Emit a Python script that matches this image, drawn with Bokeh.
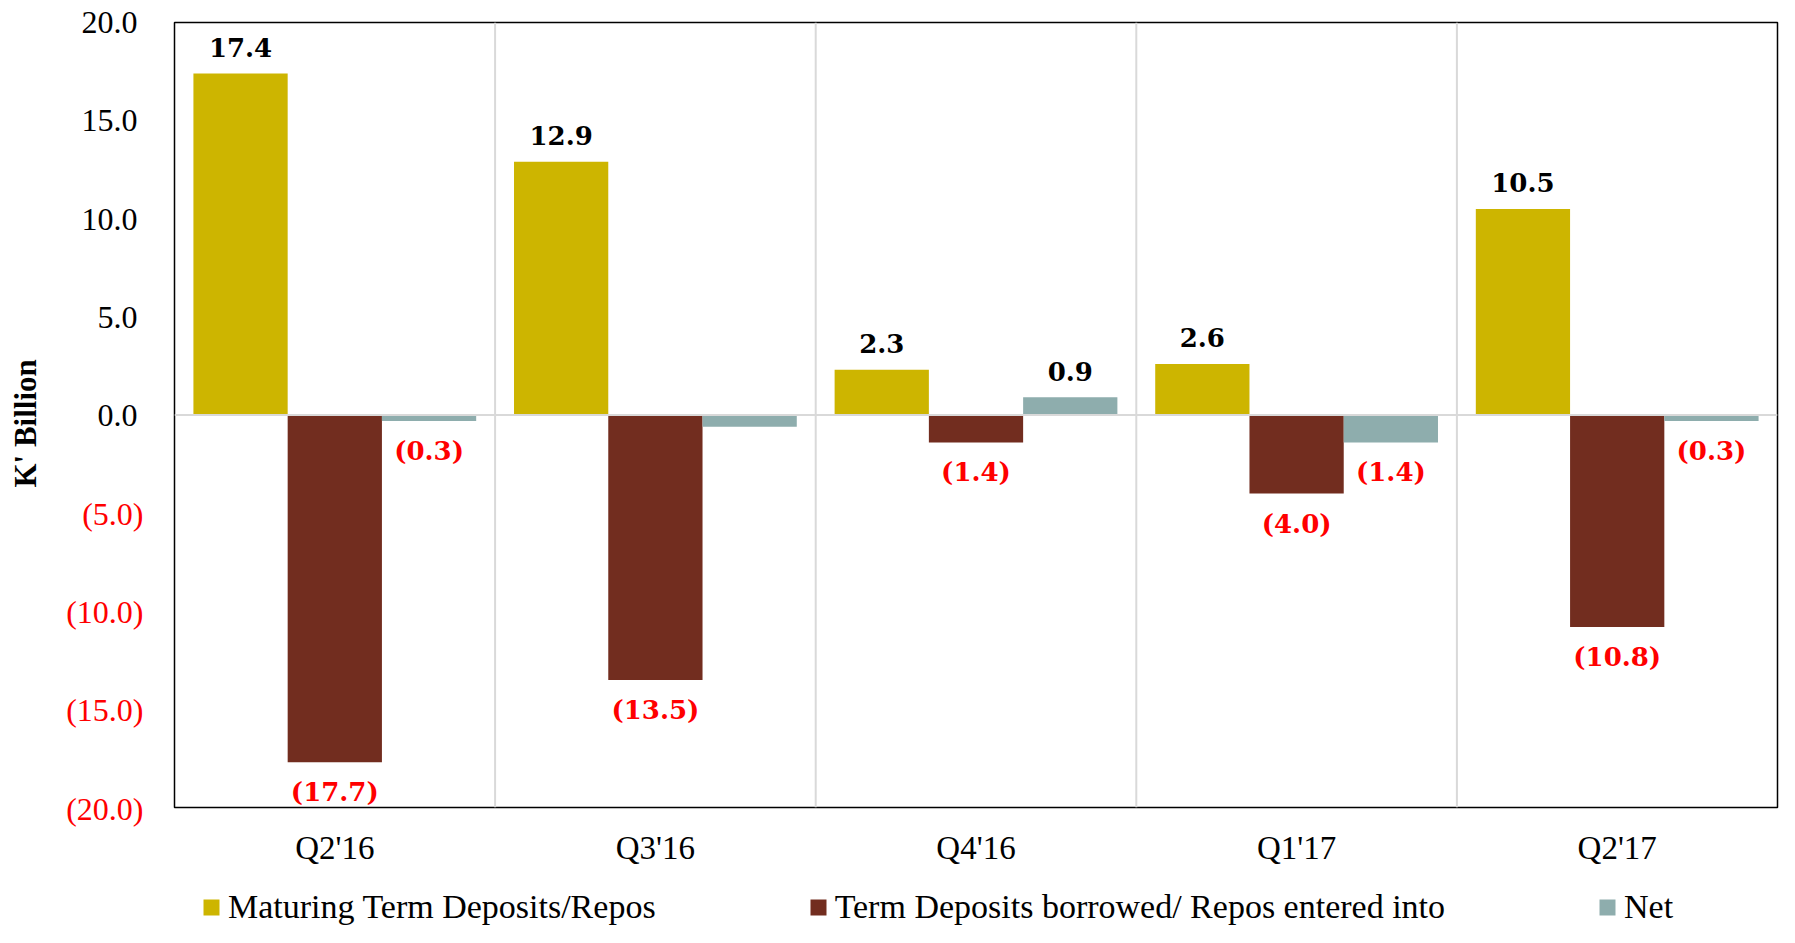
import math
from bokeh.plotting import figure
from bokeh.layouts import row, column
from bokeh.models import (ColumnDataSource, FactorRange, Range1d, Span, Legend, LegendItem)
from bokeh.transform import dodge
from bokeh.core.properties import value
from bokeh.embed import file_html
from bokeh.resources import INLINE

# ---------------- data ----------------
quarters = ["Q2'16", "Q3'16", "Q4'16", "Q1'17", "Q2'17"]
maturing = [17.4, 12.9, 2.3, 2.6, 10.5]
borrowed = [-17.7, -13.5, -1.4, -4.0, -10.8]
net = [-0.3, -0.6, 0.9, -1.4, -0.3]
net_label_shown = [True, False, True, True, True]
series_names = ["Maturing Term Deposits/Repos",
                "Term Deposits borrowed/ Repos entered into",
                "Net"]
y_ticks = [-20, -15, -10, -5, 0, 5, 10, 15, 20]
y_axis_title = "K' Billion"

# ---------------- styles / layout ----------------
colors = ["#CDB500", "#722D1F", "#8EADAD"]
SERIF = "Liberation Serif"
LABEL_FONT = "DejaVu Serif"
Y_MIN, Y_MAX = -20, 20
TOTAL_H = 927
LEFT_W = 173          # width of the y-label strip
MAIN_W = 1606
TOP = 22              # frame top
FRAME_H = 786
BOTTOM = 60           # x-axis strip
UPPER_H = TOP + FRAME_H + BOTTOM
LEG_H = TOTAL_H - UPPER_H


def fmt(v):
    return f"{v:.1f}" if v >= 0 else f"({abs(v):.1f})"


# ---------------- main chart ----------------
p = figure(x_range=FactorRange(*quarters, range_padding=0),
           y_range=Range1d(Y_MIN, Y_MAX),
           width=MAIN_W, height=UPPER_H,
           output_backend="svg", toolbar_location=None, y_axis_location=None,
           min_border_left=1, min_border_right=2,
           min_border_top=TOP, min_border_bottom=BOTTOM)
p.background_fill_color = "white"
p.border_fill_color = "white"
p.outline_line_color = "black"
p.outline_line_width = 1.5
p.xgrid.visible = False
p.ygrid.visible = False

p.xaxis.major_label_text_font = SERIF
p.xaxis.major_label_text_font_size = "33px"
p.xaxis.major_label_text_color = "black"
p.xaxis.major_label_standoff = 22
p.xaxis.major_tick_out = 0
p.xaxis.major_tick_in = 0
p.xaxis.axis_line_color = None
p.xaxis.major_tick_line_color = None
p.xaxis.minor_tick_line_color = None

for i in range(1, len(quarters)):
    p.add_layout(Span(location=i, dimension="height", line_color="#D9D9D9", line_width=2))

offsets = [-0.294, 0.0, 0.294]
bar_w = 0.294
series = [maturing, borrowed, net]
shown = [[True] * 5, [True] * 5, net_label_shown]

for vals, off, col, show in zip(series, offsets, colors, shown):
    src = ColumnDataSource(dict(
        q=quarters, val=vals,
        label=[fmt(v) if s else "" for v, s in zip(vals, show)],
        color=["black" if v >= 0 else "#FF0000" for v in vals],
        yoff=[-26 if v >= 0 else 30 for v in vals],
    ))
    p.vbar(x=dodge("q", off, range=p.x_range), top="val", bottom=0, width=bar_w,
           source=src, fill_color=col, line_color=None)
    p.text(x=dodge("q", off, range=p.x_range), y="val", text="label", source=src,
           text_color="color", y_offset="yoff", text_align="center",
           text_baseline="alphabetic", text_font=value(LABEL_FONT),
           text_font_style="bold", text_font_size="26px")

p.add_layout(Span(location=0, dimension="width", line_color="#D9D9D9", line_width=2))

# ---------------- y labels strip (same vertical scale as the main frame) ----------------
px_per_unit = FRAME_H / (Y_MAX - Y_MIN)
ly = figure(width=LEFT_W, height=TOTAL_H, output_backend="svg", toolbar_location=None,
            x_range=Range1d(0, LEFT_W),
            y_range=Range1d(Y_MIN - (TOTAL_H - TOP - FRAME_H) / px_per_unit,
                            Y_MAX + TOP / px_per_unit),
            x_axis_location=None, y_axis_location=None, min_border=0)
ly.outline_line_color = None
ly.grid.visible = False
ly.background_fill_color = "white"
ly.border_fill_color = "white"

pos_ticks = [t for t in y_ticks if t >= 0]
neg_ticks = [t for t in y_ticks if t < 0]
ly.text(x=[LEFT_W - 36] * len(pos_ticks), y=pos_ticks, text=[fmt(float(t)) for t in pos_ticks],
        text_align="right", text_baseline="middle", text_font=value(SERIF),
        text_font_size="32px", text_color="black")
ly.text(x=[LEFT_W - 30] * len(neg_ticks), y=neg_ticks, text=[fmt(float(t)) for t in neg_ticks],
        text_align="right", text_baseline="middle", text_font=value(SERIF),
        text_font_size="32px", text_color="#FF0000")
ly.text(x=[25], y=[-0.4], text=[y_axis_title], angle=math.pi / 2,
        text_align="center", text_baseline="middle", text_font=value(SERIF),
        text_font_style="bold", text_font_size="31px", text_color="black")

# ---------------- legend strip ----------------
lg = figure(width=MAIN_W, height=LEG_H, output_backend="svg", toolbar_location=None,
            x_range=Range1d(0, 1), y_range=Range1d(0, 1),
            x_axis_location=None, y_axis_location=None, min_border=0)
lg.outline_line_color = None
lg.grid.visible = False
lg.background_fill_color = "white"
lg.border_fill_color = "white"
leg_items = []
for name, col in zip(series_names, colors):
    # zero-height proxy bar, only used to draw the legend swatch
    r = lg.vbar(x=[0.5], top=[0.5], bottom=[0.5], width=0.0, fill_color=col, line_color=None)
    leg_items.append(LegendItem(label=name, renderers=[r]))
legend = Legend(items=leg_items, location=(200 - LEFT_W, 1), orientation="horizontal",
                spacing=152, glyph_width=20, glyph_height=20, label_standoff=7,
                padding=0, margin=0, border_line_color=None, background_fill_alpha=0,
                label_text_font=SERIF, label_text_font_size="34px", label_text_color="black")
lg.add_layout(legend)

layout = row(ly, column(p, lg))
open("out.html", "w").write(file_html(layout, INLINE))
